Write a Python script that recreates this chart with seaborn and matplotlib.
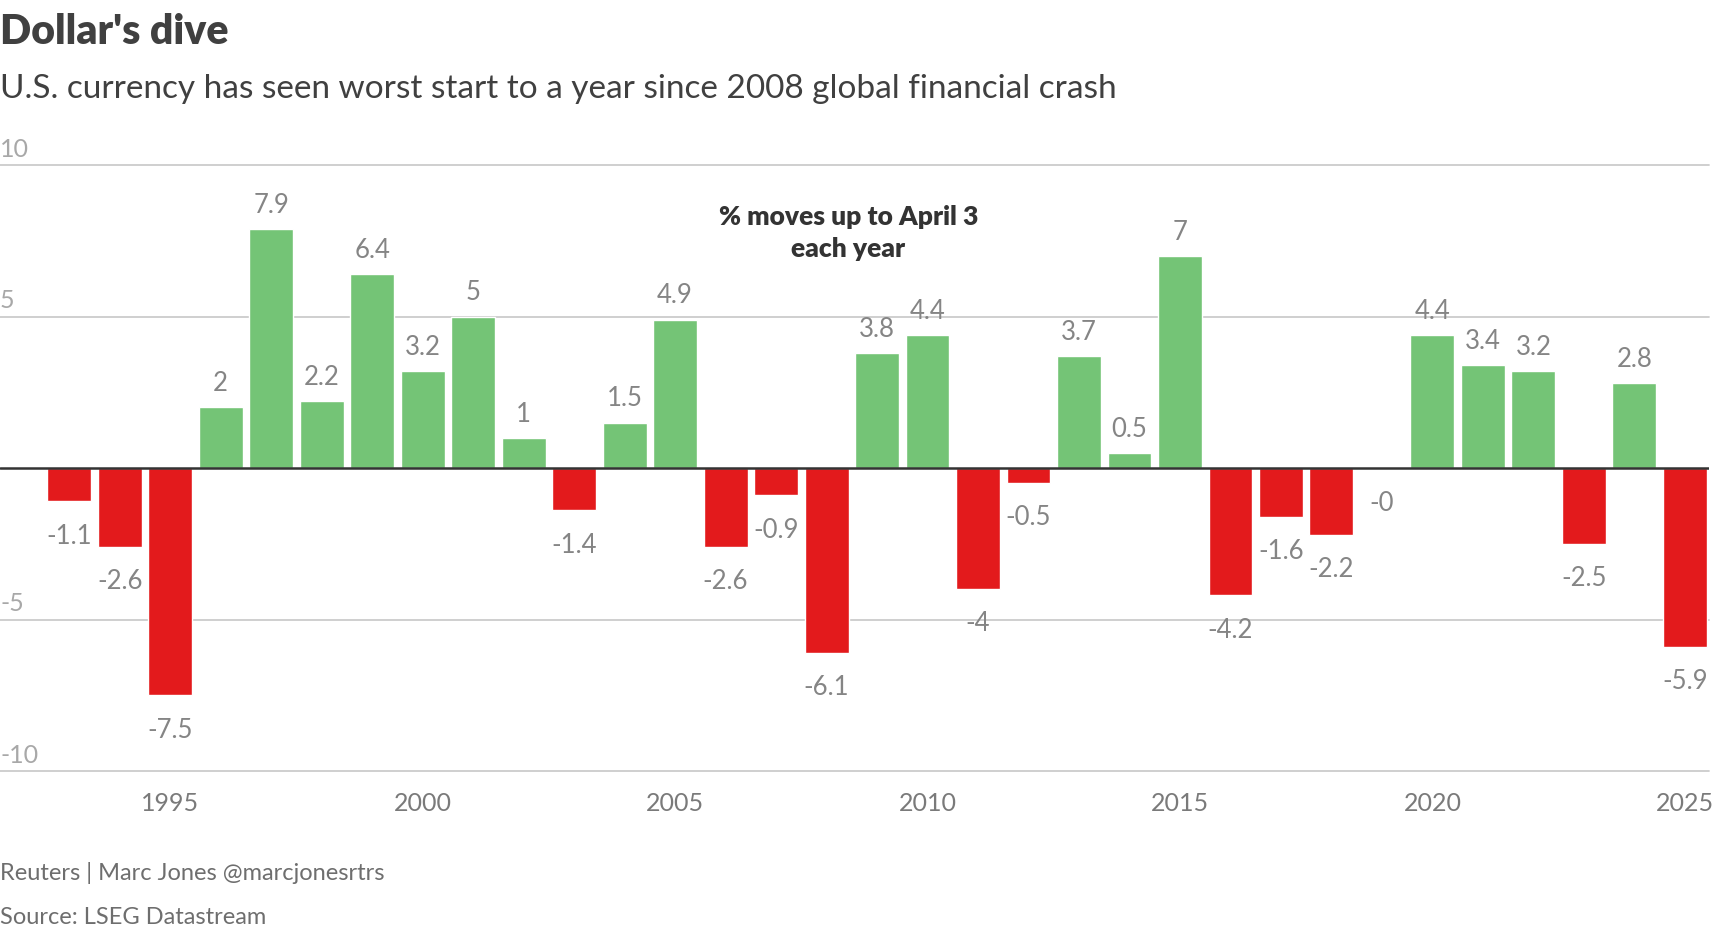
import pandas as pd
import seaborn as sns
import matplotlib.pyplot as plt

# ── Data: dollar % moves up to April 3 each year ─────────────────────────────
years = list(range(1993, 2026))
moves = [-1.1, -2.6, -7.5, 2.0, 7.9, 2.2, 6.4, 3.2, 5.0, 1.0,
         -1.4, 1.5, 4.9, -2.6, -0.9, -6.1, 3.8, 4.4, -4.0, -0.5,
         3.7, 0.5, 7.0, -4.2, -1.6, -2.2, -0.02, 4.4, 3.4, 3.2,
         -2.5, 2.8, -5.9]
y_ticks = [10, 5, -5, -10]
x_ticks = [1995, 2000, 2005, 2010, 2015, 2020, 2025]

GREEN = "#74c476"
RED = "#e31a1c"
DARK = "#404040"

df = pd.DataFrame({"year": years, "move": moves})
df["dir"] = ["up" if m >= 0 else "down" for m in moves]

sns.set_theme(style="white")
plt.rcParams["font.family"] = ["Lato", "DejaVu Sans"]

fig = plt.figure(figsize=(17.16, 9.3), dpi=100)
ax = fig.add_axes([0.0, 0.1709, 0.996, 0.6517])

sns.barplot(data=df, x="year", y="move", hue="dir", native_scale=True,
            palette={"up": GREEN, "down": RED}, width=0.87, dodge=False,
            saturation=1, legend=False, ax=ax, zorder=2)

ax.set_xlim(1991.63, 2025.48)
ax.set_ylim(-10, 10)

# gridlines + y labels sitting on the lines
for v in y_ticks:
    ax.axhline(v, color="#cccccc", lw=1.3, zorder=0, clip_on=False)
    ax.annotate(str(v), xy=(0, v), xycoords=ax.get_yaxis_transform(),
                xytext=(0, 6), textcoords="offset points",
                ha="left", va="baseline", fontsize=18, color="#a8a8a8")
ax.axhline(0, color="#333333", lw=1.8, zorder=3)

ax.set_yticks([])
ax.set_xticks(x_ticks)
ax.set_xticklabels([str(x) for x in x_ticks], fontsize=18, color="#7a7a7a")
ax.tick_params(axis="x", length=0, pad=15)
ax.set_xlabel("")
ax.set_ylabel("")
sns.despine(ax=ax, left=True, bottom=True)

# value labels
for yr, m in zip(years, moves):
    txt = f"{m:.1f}"
    if txt.endswith(".0"):
        txt = txt[:-2]
    off = 17 if m >= 0 else -25
    ax.annotate(txt, xy=(yr, m), xytext=(0, off), textcoords="offset points",
                ha="center", va="center", fontsize=18.5, color="#858585")

ax.text(2008.43, 7.75, "% moves up to April 3\neach year", ha="center",
        va="center", fontsize=19, fontweight="heavy", color="#333333",
        linespacing=1.4)

fig.text(0.0, 0.953, "Dollar's dive", fontsize=29.5, fontweight="heavy",
         color=DARK, ha="left", va="baseline")
fig.text(0.0, 0.895, "U.S. currency has seen worst start to a year since 2008 global financial crash",
         fontsize=24, color=DARK, ha="left", va="baseline")
fig.text(0.0, 0.0538, "Reuters | Marc Jones @marcjonesrtrs", fontsize=17,
         color="#6e6e6e", ha="left", va="baseline")
fig.text(0.0, 0.0065, "Source: LSEG Datastream", fontsize=17,
         color="#6e6e6e", ha="left", va="baseline")

fig.savefig("out.png", dpi=100)
